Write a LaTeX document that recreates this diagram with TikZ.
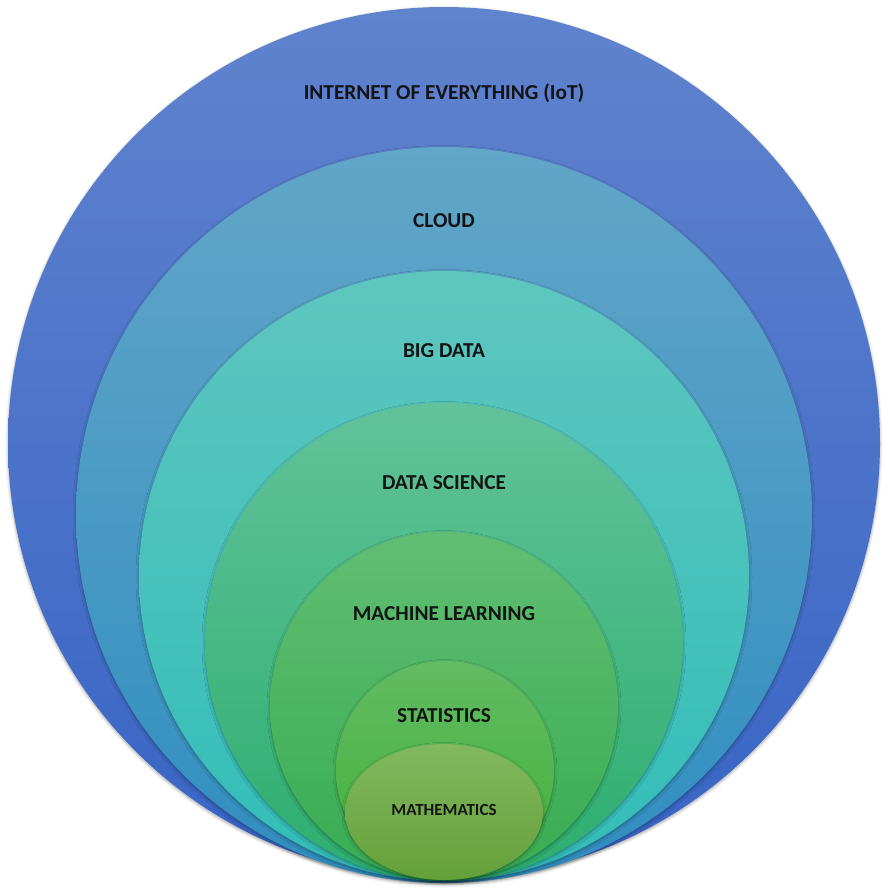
\documentclass[tikz,border=0pt]{standalone}
\usepackage{fontspec}
\setmainfont{Carlito}
\usetikzlibrary{shadows.blur}
\definecolor{iotT}{RGB}{96,131,206}
\definecolor{iotB}{RGB}{55,100,196}
\definecolor{clT}{RGB}{98,166,200}
\definecolor{clB}{RGB}{48,142,192}
\definecolor{bdT}{RGB}{94,198,191}
\definecolor{bdB}{RGB}{50,189,184}
\definecolor{dsT}{RGB}{98,194,154}
\definecolor{dsB}{RGB}{44,174,110}
\definecolor{mlT}{RGB}{96,190,114}
\definecolor{mlB}{RGB}{56,172,82}
\definecolor{stT}{RGB}{98,187,98}
\definecolor{stB}{RGB}{66,178,58}
\definecolor{maT}{RGB}{130,184,96}
\definecolor{maB}{RGB}{100,160,56}
\tikzset{
  ring/.style={blur shadow={shadow xshift=0pt,shadow yshift=-1.5pt,shadow blur radius=3pt,shadow opacity=35}},
  lbl/.style={font=\bfseries\fontsize{21.3}{24}\selectfont, text=black!92},
}
\begin{document}
\begin{tikzpicture}[x=1pt,y=-1pt]
\useasboundingbox (0,0) rectangle (889,889);
\shade[ring, top color=iotT, bottom color=iotB] (444,443) circle[radius=436];
\shade[ring, top color=clT, bottom color=clB] (444,515) circle[radius=368];
\shade[ring, top color=bdT, bottom color=bdB] (444,576) circle[radius=305];
\shade[ring, top color=dsT, bottom color=dsB] (444,642) circle[radius=239];
\shade[ring, top color=mlT, bottom color=mlB] (444,706) circle[radius=174];
\shade[ring, top color=stT, bottom color=stB] (445,770) circle[radius=109];
\shade[ring, top color=maT, bottom color=maB] (444,812) ellipse[x radius=99, y radius=68];
\node[lbl] (iot) at (444,93) {INTERNET OF EVERYTHING (IoT)};
\node[lbl] (cloud) at (444,221) {CLOUD};
\node[lbl] (bigdata) at (444,351) {BIG DATA};
\node[lbl] (datasci) at (444,483) {DATA SCIENCE};
\node[lbl] (ml) at (444,614) {MACHINE LEARNING};
\node[lbl] (stats) at (444,716) {STATISTICS};
\node[lbl, font=\bfseries\fontsize{17}{20}\selectfont] (math) at (444,810) {MATHEMATICS};
\end{tikzpicture}
\end{document}
